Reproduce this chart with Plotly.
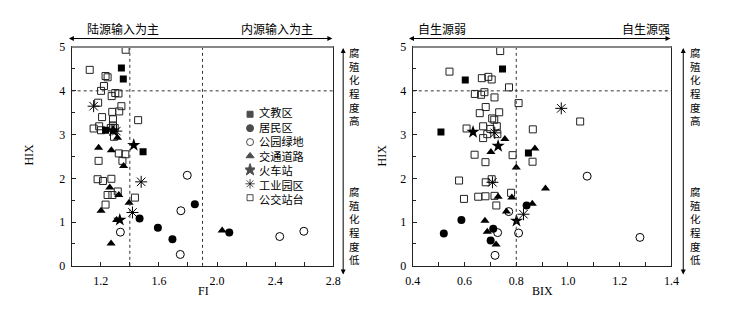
import plotly.graph_objects as go

W, H = 753, 312

categories = ["文教区", "居民区", "公园绿地", "交通道路", "火车站", "工业园区", "公交站台"]

# ---- Left panel: FI vs HIX ----
fi_wenjiao = [1.342, 1.355, 1.233, 1.491]
hix_wenjiao_l = [4.52, 4.27, 3.10, 2.61]
fi_jumin = [1.467, 1.593, 1.693, 1.847, 2.084]
hix_jumin_l = [1.08, 0.87, 0.61, 1.41, 0.76]
fi_gongyuan = [1.795, 1.751, 1.747, 1.335, 2.431, 2.597]
hix_gongyuan_l = [2.07, 1.26, 0.26, 0.77, 0.67, 0.79]
fi_jiaotong = [1.185, 1.273, 1.315, 1.357, 1.262, 1.324, 1.202, 1.395, 1.309, 1.271, 2.035]
hix_jiaotong_l = [2.70, 2.64, 2.93, 2.28, 1.79, 1.62, 1.26, 1.44, 1.05, 0.51, 0.81]
fi_huoche = [1.427, 1.331, 1.284]
hix_huoche_l = [2.76, 1.05, 3.09]
fi_gongye = [1.151, 1.307, 1.478, 1.418]
hix_gongye_l = [3.65, 3.08, 1.92, 1.22]
fi_gongjiao = [1.371, 1.124, 1.233, 1.247, 1.222, 1.202, 1.300, 1.322, 1.275, 1.182,
               1.342, 1.327, 1.279, 1.209, 1.457, 1.284, 1.189, 1.151, 1.284, 1.202,
               1.269, 1.296, 1.291, 1.324, 1.369, 1.185, 1.349, 1.178, 1.215, 1.273,
               1.247, 1.280, 1.317, 1.233, 1.435]
hix_gongjiao_l = [4.94, 4.48, 4.34, 4.31, 4.11, 4.00, 3.95, 3.94, 3.88, 3.73,
                  3.65, 3.53, 3.52, 3.40, 3.33, 3.35, 3.19, 3.14, 3.21, 3.10,
                  3.15, 3.15, 2.95, 2.57, 2.55, 2.40, 2.40, 1.98, 1.94, 1.99,
                  1.62, 1.62, 1.70, 1.40, 1.56]

# ---- Right panel: BIX vs HIX ----
bix_wenjiao = [0.747, 0.603, 0.509, 0.847]
hix_wenjiao_r = [4.50, 4.25, 3.06, 2.58]
bix_jumin = [0.520, 0.588, 0.711, 0.701, 0.840]
hix_jumin_r = [0.74, 1.05, 0.85, 0.58, 1.38]
bix_gongyuan = [0.728, 0.718, 0.771, 0.809, 1.074, 1.278]
hix_gongyuan_r = [0.76, 0.24, 1.24, 0.75, 2.05, 0.65]
bix_jiaotong = [0.756, 0.872, 0.702, 0.800, 0.913, 0.730, 0.783, 0.862, 0.762, 0.679, 0.688, 0.722]
hix_jiaotong_r = [2.90, 2.68, 2.60, 2.25, 1.77, 1.58, 1.56, 1.42, 1.24, 1.03, 0.78, 0.49]
bix_huoche = [0.633, 0.730, 0.801]
hix_huoche_r = [3.06, 2.74, 1.03]
bix_gongye = [0.974, 0.717, 0.708, 0.828]
hix_gongye_r = [3.60, 3.04, 1.91, 1.18]
bix_gongjiao = [0.738, 0.542, 0.667, 0.692, 0.705, 0.772, 0.640, 0.664, 0.677, 0.716,
                0.809, 0.682, 0.659, 0.734, 0.707, 0.715, 0.672, 0.700, 0.725, 0.608,
                0.688, 0.727, 0.672, 0.864, 1.047, 0.639, 0.786, 0.681, 0.863, 0.579,
                0.682, 0.780, 0.598, 0.653, 0.681, 0.716, 0.723, 0.705]
hix_gongjiao_r = [4.91, 4.44, 4.29, 4.32, 4.26, 4.08, 3.93, 3.91, 3.97, 3.85,
                  3.72, 3.63, 3.49, 3.51, 3.37, 3.34, 3.19, 3.13, 3.19, 3.14,
                  3.01, 3.01, 2.92, 3.12, 3.30, 2.54, 2.53, 2.37, 2.38, 1.95,
                  1.91, 1.67, 1.53, 1.58, 1.59, 1.60, 1.38, 1.98]

fi_ticks = [1.2, 1.6, 2.0, 2.4, 2.8]
fi_minor = [1.4, 1.8, 2.2, 2.6]
bix_ticks = [0.4, 0.6, 0.8, 1.0, 1.2, 1.4]
bix_minor = [0.5, 0.7, 0.9, 1.1, 1.3]
hix_ticks = [0, 1, 2, 3, 4, 5]
hix_minor = [0.5, 1.5, 2.5, 3.5, 4.5]

styles = {
    "文教区": dict(symbol="square", size=7, color="black", line=dict(width=0)),
    "居民区": dict(symbol="circle", size=8, color="black", line=dict(width=0)),
    "公园绿地": dict(symbol="circle-open", size=8, color="black", line=dict(width=1, color="black")),
    "交通道路": dict(symbol="triangle-up", size=8, color="black", line=dict(width=0)),
    "火车站": dict(symbol="star", size=10, color="black", line=dict(width=0)),
    "工业园区": dict(symbol="asterisk-open", size=10, color="black", line=dict(width=1, color="black")),
    "公交站台": dict(symbol="square-open", size=7, color="#222", line=dict(width=1, color="#222")),
}

left = {
    "文教区": (fi_wenjiao, hix_wenjiao_l),
    "居民区": (fi_jumin, hix_jumin_l),
    "公园绿地": (fi_gongyuan, hix_gongyuan_l),
    "交通道路": (fi_jiaotong, hix_jiaotong_l),
    "火车站": (fi_huoche, hix_huoche_l),
    "工业园区": (fi_gongye, hix_gongye_l),
    "公交站台": (fi_gongjiao, hix_gongjiao_l),
}
right = {
    "文教区": (bix_wenjiao, hix_wenjiao_r),
    "居民区": (bix_jumin, hix_jumin_r),
    "公园绿地": (bix_gongyuan, hix_gongyuan_r),
    "交通道路": (bix_jiaotong, hix_jiaotong_r),
    "火车站": (bix_huoche, hix_huoche_r),
    "工业园区": (bix_gongye, hix_gongye_r),
    "公交站台": (bix_gongjiao, hix_gongjiao_r),
}


def px(x):
    return x / W


def py(y):
    return 1 - y / H


fig = go.Figure()
draw_order = ["公交站台", "公园绿地", "居民区", "交通道路", "文教区", "火车站", "工业园区"]
for name in draw_order:
    xs, ys = left[name]
    fig.add_trace(go.Scatter(x=xs, y=ys, mode="markers", marker=styles[name],
                             xaxis="x", yaxis="y", showlegend=False, name=name))
    xs, ys = right[name]
    fig.add_trace(go.Scatter(x=xs, y=ys, mode="markers", marker=styles[name],
                             xaxis="x2", yaxis="y2", showlegend=False, name=name))

# manual legend: symbols in a small helper axis, labels in one multi-line annotation
LEG_FONT = 11.2          # line height = 1.3 * size ~ 14.6 px
LEG_TOP, LEG_STEP = 112.3, 1.3 * LEG_FONT
n = len(categories)
leg_sym = [styles[c]["symbol"] for c in categories]
leg_size = [6, 7, 7, 7, 9, 8, 6]
fig.add_trace(go.Scatter(
    x=[0.5] * n, y=list(range(n)), mode="markers",
    marker=dict(symbol=leg_sym, size=leg_size, color="black",
                line=dict(width=1, color="black")),
    xaxis="x3", yaxis="y3", showlegend=False, hoverinfo="skip"))

ydom = [py(271), py(42)]
tickfont = dict(family="Liberation Serif", size=12, color="black")
axcommon = dict(showgrid=False, zeroline=False, showline=True, mirror=True,
                linecolor="#222", linewidth=1, ticks="inside", ticklen=4,
                tickcolor="#222", tickfont=tickfont)

leg_y_top = LEG_TOP - LEG_STEP / 2
leg_y_bot = LEG_TOP + LEG_STEP * (n - 0.5)
fig.update_layout(
    width=W, height=H, margin=dict(l=0, r=0, t=0, b=0),
    paper_bgcolor="white", plot_bgcolor="white",
    xaxis=dict(domain=[px(66), px(333)], range=[1.0, 2.8], tickmode="array",
               tickvals=fi_ticks, ticktext=[f"{v:.1f}" for v in fi_ticks],
               minor=dict(tickvals=fi_minor, ticks="inside", ticklen=4, tickcolor="#222"),
               ticklabelstandoff=4, anchor="y", **axcommon),
    yaxis=dict(domain=ydom, range=[0, 5], tickmode="array", tickvals=hix_ticks,
               ticktext=[str(v) for v in hix_ticks],
               minor=dict(tickvals=hix_minor, ticks="inside", ticklen=3, tickcolor="#222"),
               ticklabelstandoff=3, anchor="x", **axcommon),
    xaxis2=dict(domain=[px(414), px(678)], range=[0.4, 1.4], tickmode="array",
                tickvals=bix_ticks, ticktext=[f"{v:.1f}" for v in bix_ticks],
                minor=dict(tickvals=bix_minor, ticks="inside", ticklen=4, tickcolor="#222"),
                ticklabelstandoff=4, anchor="y2", **axcommon),
    yaxis2=dict(domain=ydom, range=[0, 5], tickmode="array", tickvals=hix_ticks,
                ticktext=[str(v) for v in hix_ticks],
                minor=dict(tickvals=hix_minor, ticks="inside", ticklen=3, tickcolor="#222"),
                ticklabelstandoff=3, anchor="x2", **axcommon),
    xaxis3=dict(domain=[px(243), px(253)], range=[0, 1], visible=False, anchor="y3"),
    yaxis3=dict(domain=[py(leg_y_bot), py(leg_y_top)], range=[n - 0.5, -0.5],
                visible=False, anchor="x3"),
)

# dashed reference lines
dash = dict(color="#333", width=1, dash="3px,3px")
for xv in [1.4, 1.9]:
    fig.add_shape(type="line", xref="x", yref="y domain", x0=xv, x1=xv, y0=0, y1=1, line=dash)
fig.add_shape(type="line", xref="x domain", yref="y", x0=0, x1=1, y0=4, y1=4, line=dash)
fig.add_shape(type="line", xref="x2", yref="y2 domain", x0=0.8, x1=0.8, y0=0, y1=1, line=dash)
fig.add_shape(type="line", xref="x2 domain", yref="y2", x0=0, x1=1, y0=4, y1=4, line=dash)
# grey top border
for xr, yr in [("x domain", "y domain"), ("x2 domain", "y2 domain")]:
    fig.add_shape(type="line", xref=xr, yref=yr, x0=0, x1=1, y0=1, y1=1,
                  line=dict(color="#888", width=2))

cjk = dict(family="Noto Sans CJK SC", size=12, color="black")
cjk_v = dict(family="Noto Sans CJK SC", size=10.5, color="black")
serif = dict(family="Liberation Serif", size=12, color="black")

ann = []
# legend labels
ann.append(dict(x=px(255), y=py((leg_y_top + leg_y_bot) / 2), xref="paper", yref="paper",
                text="<br>".join(categories), showarrow=False, align="left",
                font=dict(family="Noto Sans CJK SC", size=LEG_FONT, color="black"),
                xanchor="left", yanchor="middle"))
# horizontal double arrows
for x_end, length in [(332, 265), (677, 263)]:
    ann.append(dict(x=px(x_end), y=py(33), xref="paper", yref="paper", ax=-length, ay=0,
                    axref="pixel", ayref="pixel", text="", showarrow=True,
                    arrowhead=2, startarrowhead=2, arrowside="end+start",
                    arrowsize=1, startarrowsize=1, arrowwidth=1, arrowcolor="black"))
# vertical double arrows
for x_v in [343, 690]:
    ann.append(dict(x=px(x_v), y=py(43), xref="paper", yref="paper", ax=0, ay=228,
                    axref="pixel", ayref="pixel", text="", showarrow=True,
                    arrowhead=2, startarrowhead=2, arrowside="end+start",
                    arrowsize=1, startarrowsize=1, arrowwidth=1, arrowcolor="black"))
# top labels
for txt, xc in [("陆源输入为主", 118), ("内源输入为主", 275), ("自生源弱", 444), ("自生源强", 652)]:
    ann.append(dict(x=px(xc), y=py(22), xref="paper", yref="paper", text=txt,
                    showarrow=False, font=cjk, xanchor="center", yanchor="middle"))
# vertical labels (stacked characters)
for x_t in [355, 702]:
    for word, yc in [("腐殖化程度高", 83), ("腐殖化程度低", 229)]:
        ann.append(dict(x=px(x_t), y=py(yc), xref="paper", yref="paper",
                        text="<br>".join(word), showarrow=False, font=cjk_v,
                        xanchor="center", yanchor="middle"))
# axis titles
ann.append(dict(x=px(22), y=py(155), xref="paper", yref="paper", text="HIX", textangle=-90,
                showarrow=False, font=serif, xanchor="center", yanchor="middle"))
ann.append(dict(x=px(383), y=py(155), xref="paper", yref="paper", text="HIX", textangle=-90,
                showarrow=False, font=serif, xanchor="center", yanchor="middle"))
ann.append(dict(x=px(200), y=py(297), xref="paper", yref="paper", text="FI",
                showarrow=False, font=serif, xanchor="center", yanchor="middle"))
ann.append(dict(x=px(546), y=py(297), xref="paper", yref="paper", text="BIX",
                showarrow=False, font=serif, xanchor="center", yanchor="middle"))
fig.update_layout(annotations=ann)

fig.write_html("out.html", config={"displayModeBar": False},
               post_script="document.body.style.margin='0';")
